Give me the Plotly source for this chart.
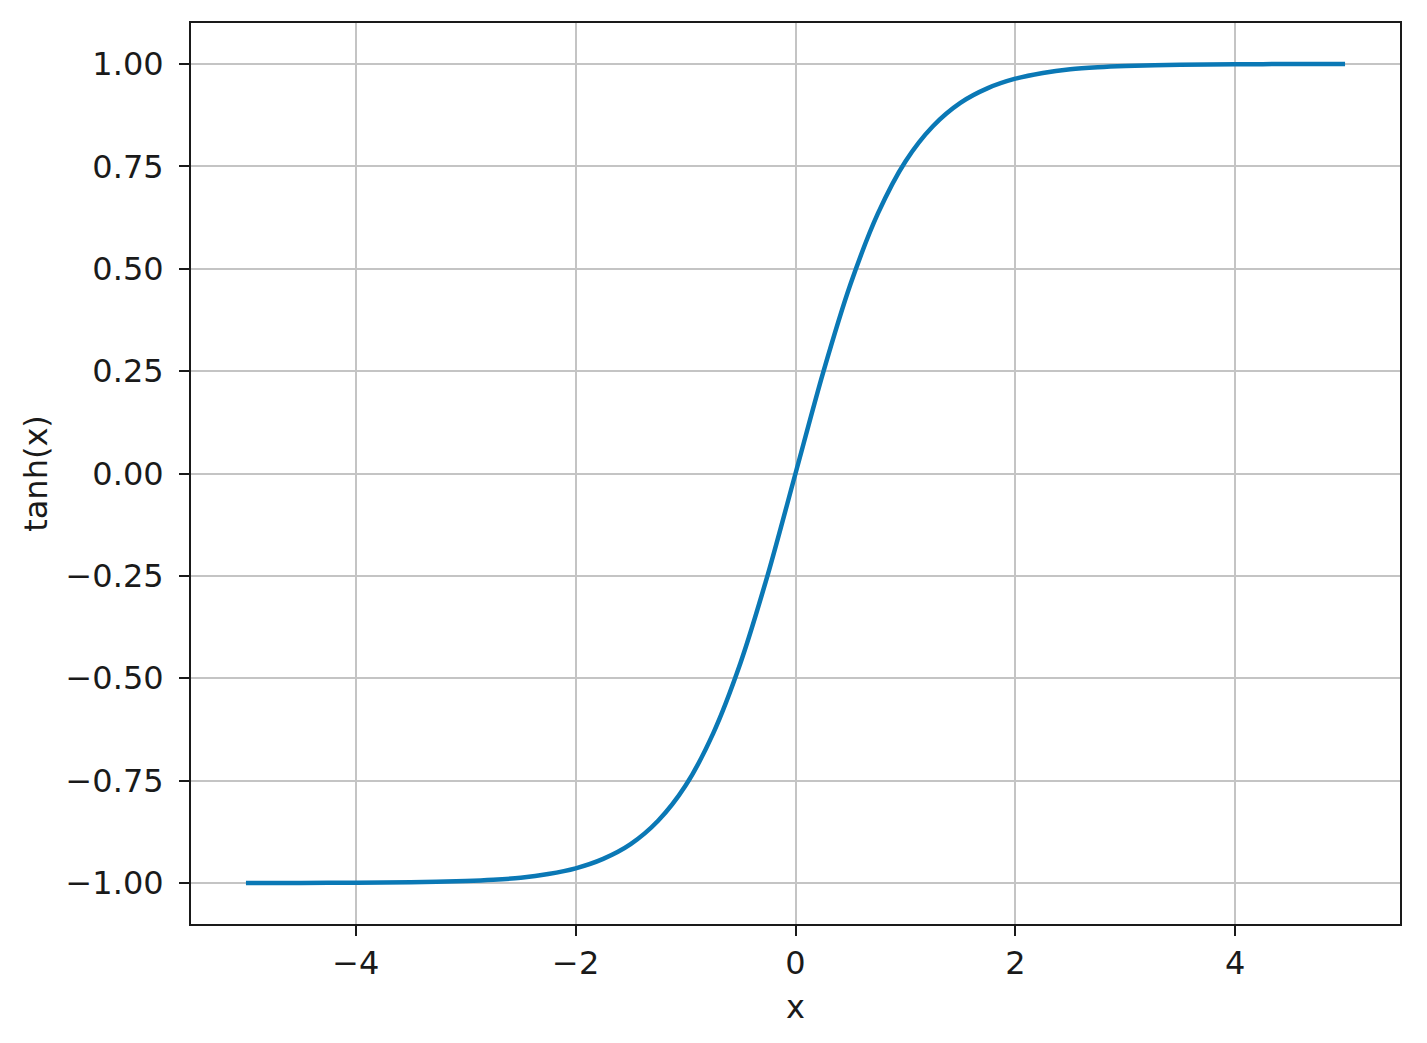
import plotly.graph_objects as go

# values
x_vals = [-5.0, -4.5, -4.0, -3.5, -3.0, -2.75, -2.5, -2.25, -2.0, -1.75, -1.5, -1.25,
          -1.0, -0.75, -0.5, -0.25, 0.0, 0.25, 0.5, 0.75, 1.0, 1.25, 1.5, 1.75,
          2.0, 2.25, 2.5, 2.75, 3.0, 3.5, 4.0, 4.5, 5.0]
y_vals = [-1.0, -1.0, -0.999, -0.998, -0.995, -0.992, -0.987, -0.978, -0.964, -0.941, -0.905, -0.848,
          -0.762, -0.635, -0.462, -0.245, 0.0, 0.245, 0.462, 0.635, 0.762, 0.848, 0.905, 0.941,
          0.964, 0.978, 0.987, 0.992, 0.995, 0.998, 0.999, 1.0, 1.0]

x_ticks = [-4, -2, 0, 2, 4]
x_tick_text = ["\u22124", "\u22122", "0", "2", "4"]
y_ticks = [-1.0, -0.75, -0.5, -0.25, 0.0, 0.25, 0.5, 0.75, 1.0]
y_tick_text = ["\u22121.00", "\u22120.75", "\u22120.50", "\u22120.25", "0.00",
               "0.25", "0.50", "0.75", "1.00"]

fig = go.Figure()
fig.add_trace(go.Scatter(x=x_vals, y=y_vals, mode="lines",
                         line=dict(color="#0a78b5", width=4.5, shape="spline", smoothing=0.8),
                         showlegend=False, hoverinfo="skip"))

font = dict(family="DejaVu Sans", size=32, color="#1a1a1a")
axis_common = dict(showline=True, linecolor="#1a1a1a", linewidth=2, mirror=True,
                   ticks="outside", ticklen=10, tickwidth=2, tickcolor="#1a1a1a",
                   showgrid=True, gridcolor="#c4c4c4", gridwidth=2, zeroline=False,
                   tickfont=font)

fig.update_xaxes(range=[-5.5, 5.5], tickvals=x_ticks, ticktext=x_tick_text,
                 ticklabelstandoff=0,
                 title=dict(text="x", font=font, standoff=14), **axis_common)
fig.update_yaxes(range=[-1.1, 1.1], tickvals=y_ticks, ticktext=y_tick_text,
                 ticklabelstandoff=9,
                 title=dict(text="tanh(x)", font=font, standoff=8), **axis_common)

fig.update_layout(width=1427, height=1043, paper_bgcolor="white", plot_bgcolor="white",
                  margin=dict(l=183, r=35, t=15, b=127), font=font)

fig.write_html("out.html")
